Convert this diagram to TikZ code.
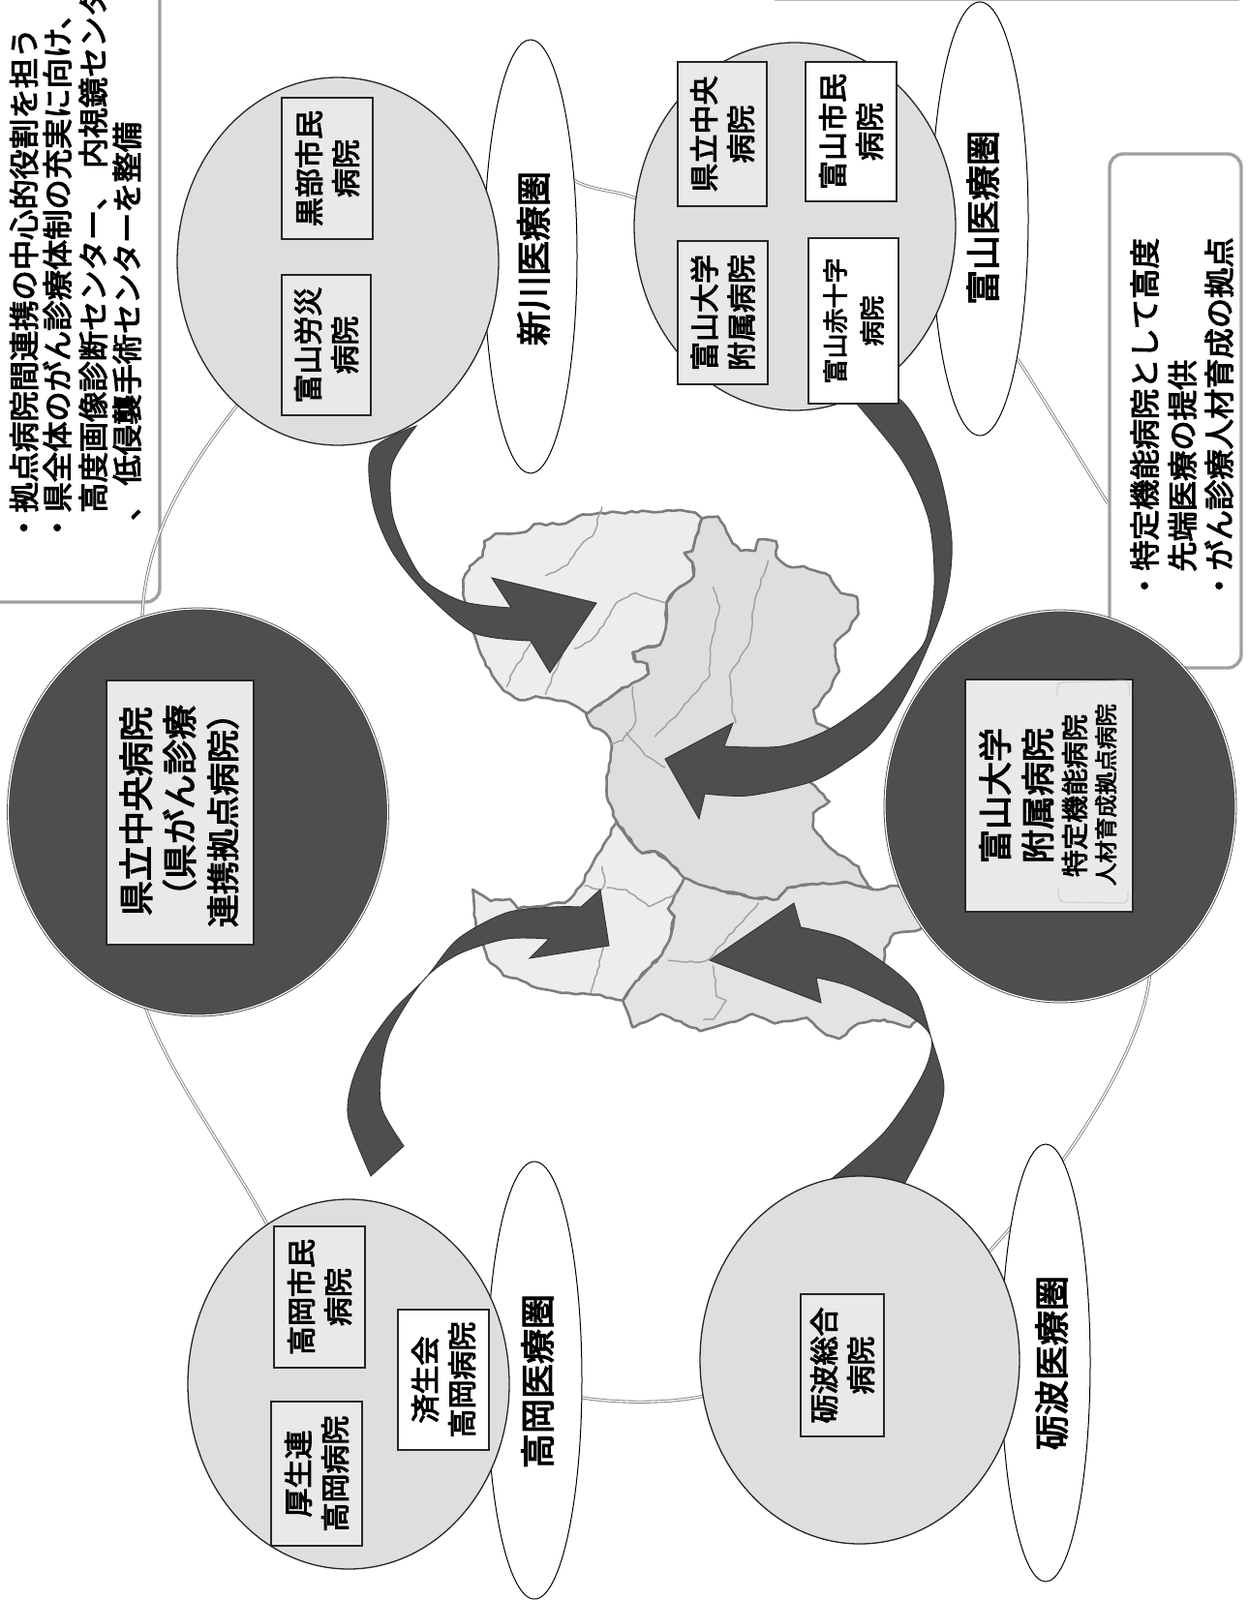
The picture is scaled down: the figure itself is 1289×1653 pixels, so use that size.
\documentclass[tikz,border=0pt]{standalone}
\usepackage{graphicx}
\usepackage{fontspec}
\setmainfont{Noto Sans CJK JP}[FakeBold=3.5]
\usetikzlibrary{shapes.geometric,decorations.pathmorphing}
\pgfdeclarelayer{under}
\pgfsetlayers{under,main}
\newcommand{\tfs}[2]{\fontsize{#1}{#2}\selectfont}
\definecolor{darkc}{HTML}{4E4E4E}
\definecolor{grpc}{HTML}{DEDEDE}
\definecolor{lbl}{HTML}{E9E9E9}
\definecolor{boxc}{HTML}{A0A0A0}
\definecolor{ringc}{HTML}{808080}
\definecolor{mapb}{HTML}{7C7C7C}
\definecolor{mapi}{HTML}{A0A0A0}
\tikzset{
 areaell/.style={ellipse,draw=black,line width=1pt,fill=white,inner sep=0pt},
 grpcirc/.style={ellipse,draw=black!85,line width=1.3pt,fill=grpc,inner sep=0pt},
 darkcirc/.style={ellipse,draw=black!75,line width=.8pt,double=white,double distance=1.2pt,fill=darkc,inner sep=0pt},
 hosp/.style={rectangle,rotate=90,draw=black!85,line width=1.1pt,fill=lbl,inner sep=0pt,align=center,font=\tfs{30}{38}},
 hospw/.style={hosp,fill=white},
 ring/.style={draw=ringc,line width=.9pt,double=white,double distance=1.3pt},
 bigarrow/.style={fill=darkc,draw=black!80,line width=.9pt,line join=miter},
 infobox/.style={draw=boxc,line width=3.4pt,fill=white,rounded corners=14pt},
 infotext/.style={rotate=90,anchor=base west,inner sep=0pt,font=\tfs{31.3}{38}},
 linetext/.style={rotate=90,anchor=base,inner sep=0pt},
 regiontext/.style={font=\tfs{36}{40}},
 mapreg/.style={draw=mapb,line width=2.6pt,line join=round,decorate,decoration={random steps,segment length=6pt,amplitude=1.3pt}},
 mapin/.style={draw=mapi,line width=1.4pt,line join=round,line cap=round,decorate,decoration={random steps,segment length=5pt,amplitude=1pt}},
 faint/.style={draw=black!18,line width=1.2pt,rounded corners=6pt},
}
\begin{document}
\begin{tikzpicture}[x=1pt,y=-1pt]
\useasboundingbox (0,0) rectangle (1289,1653);

% area ellipses
\node[areaell,minimum width=96pt,minimum height=448pt] (xinE) at (548,265) {};
\node[areaell,minimum width=100pt,minimum height=448pt] (toyE) at (1012,226) {};
\node[areaell,minimum width=98pt,minimum height=452pt] (takE) at (552,1426) {};
\node[areaell,minimum width=92pt,minimum height=452pt] (tonE) at (1080,1408) {};

% group circles
\node[grpcirc,minimum width=332pt,minimum height=380pt] (xinC) at (349,270) {};
\node[grpcirc,minimum width=332pt,minimum height=380pt] (toyC) at (821,234) {};
\node[grpcirc,minimum width=332pt,minimum height=382pt] (takC) at (360,1430) {};
\node[grpcirc,minimum width=330pt,minimum height=380pt] (tonC) at (888,1405) {};
\node[darkcirc,minimum width=392pt,minimum height=420pt] (kenC) at (204.5,839) {};
\node[darkcirc,minimum width=362pt,minimum height=404pt] (uniC) at (1095,833) {};

% region names
\node[linetext,anchor=center,regiontext] (xinL) at (551,267) {新川医療圏};
\node[linetext,anchor=center,regiontext] (toyL) at (1015,225) {富山医療圏};
\node[linetext,anchor=center,regiontext] (takL) at (555,1427) {高岡医療圏};
\node[linetext,anchor=center,regiontext] (tonL) at (1086,1408) {砺波医療圏};

% hospital boxes
\node[hosp,minimum width=146pt,minimum height=94pt] (kurobe) at (338,174) {黒部市民\\病院};
\node[hosp,minimum width=145pt,minimum height=92pt] (rosai) at (337,356.5) {富山労災\\病院};
\node[hosp,minimum width=149pt,minimum height=92pt] (kenS) at (746,138.5) {県立中央\\病院};
\node[hospw,minimum width=144pt,minimum height=94pt] (shimin) at (879,136) {富山市民\\病院};
\node[hosp,minimum width=148pt,minimum height=93pt] (toyU) at (746.5,323) {富山大学\\附属病院};
\node[hospw,minimum width=171pt,minimum height=93pt,font=\tfs{26}{38}] (seki) at (881.5,331.5) {富山赤十字\\病院};
\node[hosp,minimum width=146pt,minimum height=94pt] (takS) at (330,1340) {高岡市民\\病院};
\node[hosp,minimum width=149pt,minimum height=94pt] (kosei) at (327,1522.5) {厚生連\\高岡病院};
\node[hospw,minimum width=145pt,minimum height=94pt] (saisei) at (458,1425.5) {済生会\\高岡病院};
\node[hosp,minimum width=147pt,minimum height=86pt] (tonS) at (870,1410.5) {砺波総合\\病院};

% central hospital labels
\node[hosp,minimum width=273pt,minimum height=152pt] (kenB) at (186,839.5) {};
\node[linetext,font=\tfs{36}{40}] (kenT1) at (154,838) {県立中央病院};
\node[linetext,font=\tfs{36}{40}] (kenT2) at (199,836) {（県がん診療};
\node[linetext,font=\tfs{34}{40}] (kenT3) at (243,839) {連携拠点病院）};

\node[hosp,minimum width=240pt,minimum height=173pt] (uniB) at (1083.5,822) {};
\draw[faint] (1092,718) -- (1092,705) -- (1166,703) -- (1167,718);
\draw[faint] (1093,918) -- (1094,932) -- (1165,933) -- (1165,920);
\node[linetext,font=\tfs{35}{40}] (uniT1) at (1041,822) {富山大学};
\node[linetext,font=\tfs{35}{40}] (uniT2) at (1085,822) {附属病院};
\node[linetext,font=\tfs{28}{34}] (uniT3) at (1120.5,822) {特定機能病院};
\node[linetext,font=\tfs{23.5}{30}] (uniT4) at (1151,821) {人材育成拠点病院};

\begin{pgfonlayer}{under}
\fill[white] (0,0) rectangle (1289,1653);
% upper-left information box
\draw[infobox] (-30,-30) rectangle (165,622);
\node[infotext] (a1) at (36.5,561) {・拠点病院間連携の中心的役割を担う};
\node[infotext] (a2) at (71,561) {・県全体のがん診療体制の充実に向け、};
\node[infotext] (a3) at (108,530) {高度画像診断センター、\hspace{12pt}内視鏡センタ};
\node[infotext] (a4) at (143,538) {、\hspace{5pt}低侵襲手術センターを整備};
% fragment of the box above the page
\draw[draw=black!28,line width=1.5pt] (800,0.7) -- (1280,0.7);

% right information box
\node[draw=boxc,line width=3.4pt,fill=white,rounded corners=14pt,rectangle,minimum width=136pt,minimum height=531pt,inner sep=0pt] (rbox) at (1214,424.5) {};
\node[infotext] (b1) at (1194,621) {・特定機能病院として高度};
\node[infotext] (b2) at (1233,591) {先端医療の提供};
\node[infotext] (b3) at (1271,621) {・がん診療人材育成の拠点};

% ring
\draw[ring] (xinE.60) .. controls (610,197) and (640,197) .. (toyC.170);
\draw[ring] (toyE.-75) .. controls (1070,400) and (1110,465) .. (rbox.234);
\draw[ring] (uniC.-62) .. controls (1180,1090) and (1090,1220) .. (tonC.40);
\draw[ring] (takE.-20) .. controls (640,1450) and (690,1450) .. (tonC.193);
\draw[ring] (takC.117) .. controls (235,1190) and (175,1110) .. (kenC.255);
\draw[ring] (kenC.106) .. controls (150,555) and (190,490) .. (xinC.235);

% map
\begin{scope}[shift={(440,500)},x=0.33333pt,y=-0.39526pt]
\draw[mapreg,fill=black!11] (800,1030)--(880,1055)--(1000,1080)--(1090,1085)--(1120,1055)--(1200,1045)--(1300,1040)--(1385,1060)--(1460,1050)--(1520,1080)--(1570,1130)--(1530,1165)--(1450,1175)--(1420,1215)--(1410,1350)--(1530,1390)--(1500,1420)--(1420,1400)--(1340,1410)--(1280,1450)--(1240,1440)--(1180,1395)--(1080,1410)--(1010,1385)--(960,1405)--(850,1430)--(790,1405)--(730,1385)--(640,1420)--(610,1350)--(650,1300)--(720,1240)--(755,1190)--(770,1130)--(750,1110)--(770,1075)--cycle;
\draw[mapreg,fill=black!7] (590,880)--(640,940)--(670,965)--(710,960)--(750,985)--(800,1030)--(770,1075)--(750,1110)--(770,1130)--(755,1190)--(720,1240)--(650,1300)--(610,1350)--(520,1335)--(440,1330)--(360,1320)--(300,1300)--(240,1285)--(190,1240)--(155,1155)--(150,1110)--(145,1060)--(175,1075)--(200,1090)--(260,1085)--(285,1110)--(430,1095)--(480,1050)--(530,970)--(560,930)--cycle;
\draw[mapreg,fill=black!13] (855,90)--(905,85)--(925,110)--(950,155)--(975,175)--(1020,175)--(1030,145)--(1085,150)--(1085,190)--(1120,215)--(1170,215)--(1250,240)--(1285,285)--(1335,295)--(1340,340)--(1300,390)--(1265,420)--(1280,490)--(1250,540)--(1200,590)--(1210,625)--(1250,640)--(1190,780)--(1250,830)--(1200,860)--(1200,900)--(1250,950)--(1340,1000)--(1370,1050)--(1385,1060)--(1300,1040)--(1200,1045)--(1120,1055)--(1090,1085)--(1000,1080)--(880,1055)--(800,1030)--(750,985)--(710,960)--(670,965)--(640,940)--(590,880)--(565,830)--(560,780)--(575,680)--(555,650)--(510,630)--(495,600)--(590,545)--(690,495)--(685,470)--(650,465)--(640,440)--(670,430)--(725,420)--(745,360)--(745,310)--(770,280)--(805,260)--(830,240)--(825,205)--(800,180)--(825,175)--(835,140)--cycle;
\draw[mapreg,fill=black!7] (115,250)--(135,215)--(175,190)--(180,150)--(215,130)--(310,125)--(335,105)--(420,105)--(470,85)--(540,75)--(600,75)--(690,72)--(770,70)--(835,75)--(855,90)--(835,140)--(825,175)--(800,180)--(825,205)--(830,240)--(805,260)--(770,280)--(745,310)--(745,360)--(725,420)--(670,430)--(640,440)--(650,465)--(685,470)--(690,495)--(640,520)--(590,545)--(500,600)--(440,570)--(380,560)--(340,555)--(290,565)--(240,540)--(205,500)--(170,445)--(150,395)--(125,340)--(115,290)--cycle;
\draw[mapin] (370,240)--(440,210)--(480,160)--(520,130)--(545,60);
\draw[mapin] (740,310)--(650,285)--(590,310)--(550,370)--(510,410)--(460,430);
\draw[mapin] (330,410)--(270,490)--(250,530);
\draw[mapin] (430,430)--(370,550);
\draw[mapin] (1060,200)--(1020,300)--(1000,420)--(940,500)--(950,600)--(960,625);
\draw[mapin] (890,270)--(910,320)--(880,430)--(880,500)--(790,590)--(710,660);
\draw[mapin] (640,530)--(650,620)--(610,670)--(570,680);
\draw[mapin] (620,650)--(680,710)--(740,740);
\draw[mapin] (560,1055)--(620,1060)--(690,1105)--(780,1070);
\draw[mapin] (545,1000)--(555,1040)--(545,1060)--(490,1050);
\draw[mapin] (550,1210)--(530,1280)--(510,1330);
\draw[mapin] (1030,1095)--(960,1160)--(880,1240)--(850,1250)--(750,1245);
\draw[mapin] (890,1260)--(900,1340)--(930,1350)--(890,1400)--(860,1400);
\end{scope}

% large arrows
\draw[bigarrow] plot[smooth] coordinates {(430,440) (384,465) (385,520) (405,570) (440,613) (490,654) (548,662)} -- (568,695) -- (616,623) -- (508,597) -- (528,628) -- plot[smooth] coordinates {(528,628) (480,622) (440,601) (420,570) (405,530) (405,480) (430,440)} -- cycle;
\draw[bigarrow] plot[smooth] coordinates {(870,400) (930,413) (967,478) (983,558) (975,625) (940,709) (907,761) (873,788) (837,808) (773,822) (728,820)} -- (722,846) -- (687,784) -- (757,747) -- (748,771) -- plot[smooth] coordinates {(748,771) (807,771) (857,753) (907,717) (940,682) (957,658) (965,603) (959,536) (930,473) (870,400)} -- cycle;
\draw[bigarrow] plot[smooth] coordinates {(383,1215) (360,1157) (363,1120) (380,1080) (407,1043) (440,1010) (473,970) (523,943) (573,937) (600,937)} -- (620,919) -- (629,977) -- (547,990) -- (567,970) -- plot[smooth] coordinates {(567,970) (523,970) (473,986) (437,1013) (403,1067) (393,1113) (395,1147) (417,1184)} -- cycle;
\draw[bigarrow] plot[smooth] coordinates {(925,1240) (963,1167) (975,1123) (962,1073) (947,1027) (920,1000) (873,970) (827,958)} -- (820,933) -- (733,992) -- (848,1036) -- (843,1010) -- plot[smooth] coordinates {(843,1010) (880,1020) (940,1050) (962,1073) (953,1110) (913,1170) (850,1225)} -- cycle;
\end{pgfonlayer}
\end{tikzpicture}
\end{document}
